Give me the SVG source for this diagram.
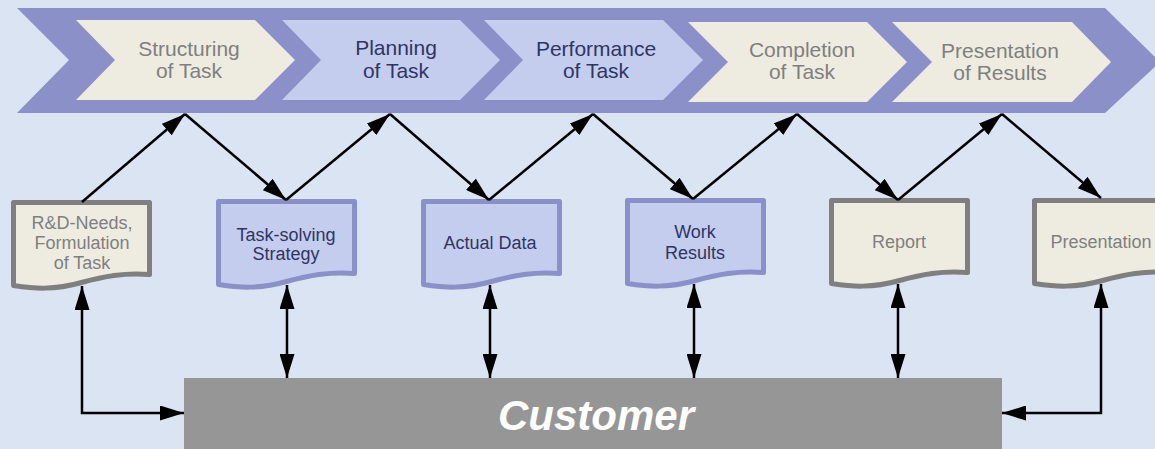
<svg xmlns="http://www.w3.org/2000/svg" width="1155" height="449" viewBox="0 0 1155 449">
<style>
.band{fill:#8b90c8}
.chev-b{fill:#c5cdee}
.chev-g{fill:#eeece1}
.ct{font-family:"Liberation Sans",Arial,sans-serif;font-size:21px;text-anchor:middle}
.dt{font-family:"Liberation Sans",Arial,sans-serif;font-size:18px;text-anchor:middle}
.tg{fill:#7f7f7f}
.tb{fill:#2f3563}
.doc-g{fill:#eeece1;stroke:#7f7f7f;stroke-width:5;stroke-linejoin:round}
.doc-b{fill:#c5cdee;stroke:#8b90c8;stroke-width:5;stroke-linejoin:round}
.con{fill:none;stroke:#000;stroke-width:2.5}
</style>
<defs>
<marker id="ah" viewBox="0 0 24 15" refX="24" refY="7.5" markerWidth="24" markerHeight="15" orient="auto-start-reverse" markerUnits="userSpaceOnUse">
<path d="M0,0 L24,7.5 L0,15 Z" fill="#000"/>
</marker>
<path id="docshape" d="M0,0 H136 V72 C110,70 90,74 68,80 C40,88 20,86 0,83 Z"/>
</defs>
<rect width="1155" height="449" fill="#dbe4f3"/>
<g id="band">
<polygon class="band" points="17,8 1105,8 1160,62 1105,113 17,113 69,60"/>
</g>
<g id="structuring">
<polygon class="chev-g" points="76,20 255,20 295,60 255,100 76,100 115,60"/>
<text class="ct tg" x="189" y="56">Structuring</text>
<text class="ct tg" x="189" y="78">of Task</text>
</g>
<g id="planning">
<polygon class="chev-b" points="282,20 460,20 500,60 460,100 282,100 321,60"/>
<text class="ct tb" x="396" y="55">Planning</text>
<text class="ct tb" x="396" y="78">of Task</text>
</g>
<g id="performance">
<polygon class="chev-b" points="484,20 663,20 703,60 663,100 484,100 523,60"/>
<text class="ct tb" x="596" y="56">Performance</text>
<text class="ct tb" x="596" y="78">of Task</text>
</g>
<g id="completion">
<polygon class="chev-g" points="688,22 867,22 907,62 867,102 688,102 728,62"/>
<text class="ct tg" x="802" y="57">Completion</text>
<text class="ct tg" x="802" y="79">of Task</text>
</g>
<g id="presentation-results">
<polygon class="chev-g" points="892,22 1072,22 1111,62 1072,102 892,102 932,62"/>
<text class="ct tg" x="1000" y="58">Presentation</text>
<text class="ct tg" x="1000" y="80">of Results</text>
</g>
<g id="doc-needs">
<use href="#docshape" class="doc-g" transform="translate(13.5,202.5)"/>
<text class="dt tg" x="82" y="229">R&amp;D-Needs,</text>
<text class="dt tg" x="82" y="249">Formulation</text>
<text class="dt tg" x="82" y="269">of Task</text>
</g>
<g id="doc-strategy">
<use href="#docshape" class="doc-b" transform="translate(218.5,201.5)"/>
<text class="dt tb" x="286" y="241">Task-solving</text>
<text class="dt tb" x="286" y="260">Strategy</text>
</g>
<g id="doc-data">
<use href="#docshape" class="doc-b" transform="translate(423.5,201.5)"/>
<text class="dt tb" x="490" y="249">Actual Data</text>
</g>
<g id="doc-results">
<use href="#docshape" class="doc-b" transform="translate(627.5,200.5)"/>
<text class="dt tb" x="695" y="238">Work</text>
<text class="dt tb" x="695" y="259">Results</text>
</g>
<g id="doc-report">
<use href="#docshape" class="doc-g" transform="translate(831.5,200.5)"/>
<text class="dt tg" x="899" y="248">Report</text>
</g>
<g id="doc-presentation">
<use href="#docshape" class="doc-g" transform="translate(1034.5,200.5)"/>
<text class="dt tg" x="1101" y="248">Presentation</text>
</g>
<g id="customer">
<rect x="184" y="378" width="818" height="75" fill="#969696"/>
<text x="596" y="430" font-family="'Liberation Sans',Arial,sans-serif" font-size="42" font-weight="bold" font-style="italic" fill="#ffffff" text-anchor="middle">Customer</text>
</g>
<g id="connectors" class="con">
<line x1="82" y1="202" x2="185" y2="114" marker-end="url(#ah)"/>
<line x1="185" y1="114" x2="286" y2="200" marker-end="url(#ah)"/>
<line x1="286" y1="200" x2="390" y2="114" marker-end="url(#ah)"/>
<line x1="390" y1="114" x2="489" y2="200" marker-end="url(#ah)"/>
<line x1="489" y1="200" x2="593" y2="114" marker-end="url(#ah)"/>
<line x1="593" y1="114" x2="693" y2="199" marker-end="url(#ah)"/>
<line x1="693" y1="199" x2="797" y2="114" marker-end="url(#ah)"/>
<line x1="797" y1="114" x2="898" y2="200" marker-end="url(#ah)"/>
<line x1="898" y1="200" x2="1002" y2="114" marker-end="url(#ah)"/>
<line x1="1002" y1="114" x2="1101" y2="198" marker-end="url(#ah)"/>
<path d="M82,286 V413 H184" marker-start="url(#ah)" marker-end="url(#ah)"/>
<line x1="287" y1="285" x2="287" y2="378" marker-start="url(#ah)" marker-end="url(#ah)"/>
<line x1="490" y1="285" x2="490" y2="378" marker-start="url(#ah)" marker-end="url(#ah)"/>
<line x1="694" y1="284" x2="694" y2="378" marker-start="url(#ah)" marker-end="url(#ah)"/>
<line x1="898" y1="284" x2="898" y2="378" marker-start="url(#ah)" marker-end="url(#ah)"/>
<path d="M1101,284 V413 H1002" marker-start="url(#ah)" marker-end="url(#ah)"/>
</g>
</svg>
